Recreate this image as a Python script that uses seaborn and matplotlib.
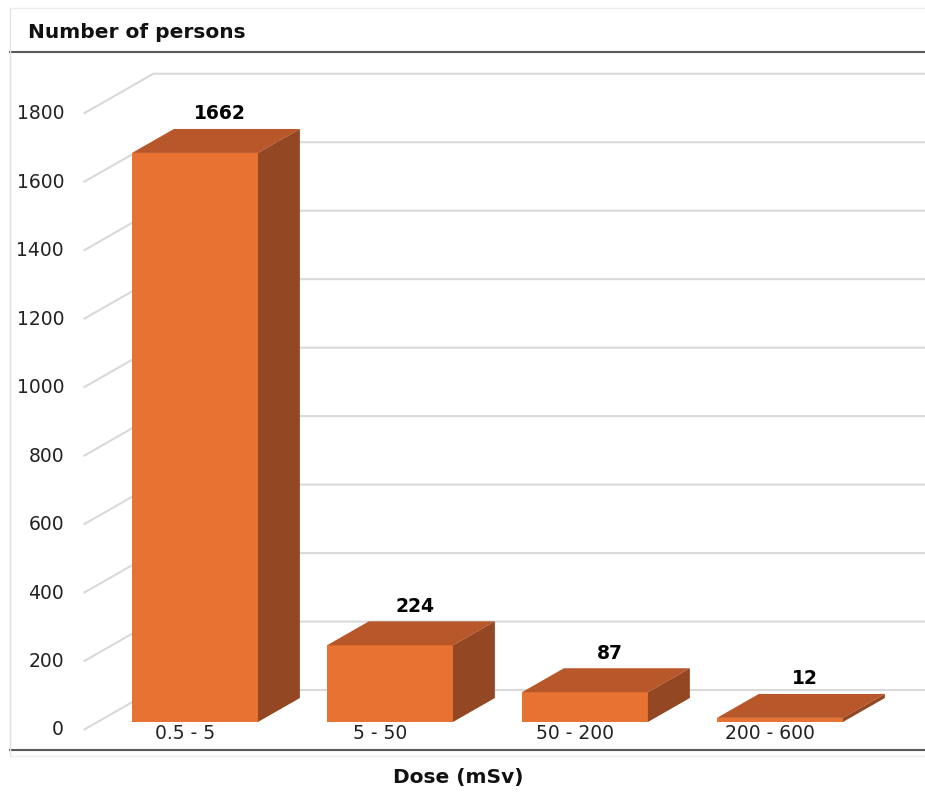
import matplotlib
matplotlib.use('Agg')
import matplotlib.pyplot as plt
import seaborn as sns
from matplotlib.patches import Polygon
from matplotlib.lines import Line2D

# data
dose_classes = ['0.5 - 5', '5 - 50', '50 - 200', '200 - 600']
persons = [1662, 224, 87, 12]
y_ticks = [0, 200, 400, 600, 800, 1000, 1200, 1400, 1600, 1800]

front_col = '#E87232'
top_col = '#B8572A'
side_col = '#934722'
grid_col = '#d9d9d9'

sns.set_theme(style='white')
plt.rcParams['font.family'] = ['DejaVu Sans']

W, H = 925, 796
def fx(px):
    return px / W
def fy(py):
    return 1 - py / H

fig = plt.figure(figsize=(9.25, 7.96), dpi=100)
ax = fig.add_axes([fx(10), fy(750), fx(925) - fx(10), fy(52) - fy(750)])

sns.barplot(x=dose_classes, y=persons, color=front_col, saturation=1,
            width=0.646, linewidth=0, ax=ax, zorder=3)

# fake 3d depth (category units, value units)
dx, dy = 0.215, 70
xmax = 3.744

# slanted gridlines on the floor/back wall
for v in y_ticks:
    ax.plot([-0.5 - dx / 3, -0.5 + 4 * dx / 3, xmax],
            [v - dy / 3, v + 4 * dy / 3, v + 4 * dy / 3],
            color=grid_col, lw=1.5, zorder=0, solid_capstyle='butt')
    ax.text(-0.5 - dx / 3 - 0.1, v - dy / 3, str(v), ha='right', va='center',
            fontsize=13.5, color='#222222')

for p, val in zip(ax.patches, persons):
    x0, w, h = p.get_x(), p.get_width(), p.get_height()
    top = Polygon([(x0, h), (x0 + w, h), (x0 + w + dx, h + dy), (x0 + dx, h + dy)],
                  closed=True, facecolor=top_col, edgecolor='none', zorder=3)
    side = Polygon([(x0 + w, 0), (x0 + w + dx, dy), (x0 + w + dx, h + dy), (x0 + w, h)],
                   closed=True, facecolor=side_col, edgecolor='none', zorder=3)
    ax.add_patch(top)
    ax.add_patch(side)
    ax.annotate(str(val), (x0 + w / 2 + dx / 2 + 0.02, h + dy), xytext=(0, 4),
                textcoords='offset points', ha='center', va='bottom',
                fontsize=13.5, fontweight='bold', color='black')

for i, lab in enumerate(dose_classes):
    ax.text(i - dx / 3 + 0.02, -dy / 3 - 9, lab, ha='center', va='center',
            fontsize=13.5, color='#222222')

ax.set_xlim(-0.9487, xmax)
ax.set_ylim(-81.8, 1956.8)
ax.set_xticks([])
ax.set_yticks([])
ax.set_xlabel('')
ax.set_ylabel('')
for s in ['top', 'bottom']:
    ax.spines[s].set_color('#5a5a5a')
    ax.spines[s].set_linewidth(1.5)
ax.spines['left'].set_color('#e2e2e2')
ax.spines['left'].set_linewidth(1)
ax.spines['right'].set_visible(False)

# outer frame and header
fig.add_artist(Line2D([fx(10), fx(10)], [fy(8), fy(756)], color='#e2e2e2', lw=1))
fig.add_artist(Line2D([fx(10), fx(925)], [fy(8), fy(8)], color='#ececec', lw=1))
fig.add_artist(Line2D([fx(10), fx(925)], [fy(756), fy(756)], color='#ececec', lw=1))

fig.text(fx(28), fy(33), 'Number of persons', fontsize=14.5, fontweight='bold',
         ha='left', va='center', color='#111111')
fig.text(fx(458), fy(778), 'Dose (mSv)', fontsize=14.5, fontweight='bold',
         ha='center', va='center', color='#111111')

fig.savefig('out.png', dpi=100)
